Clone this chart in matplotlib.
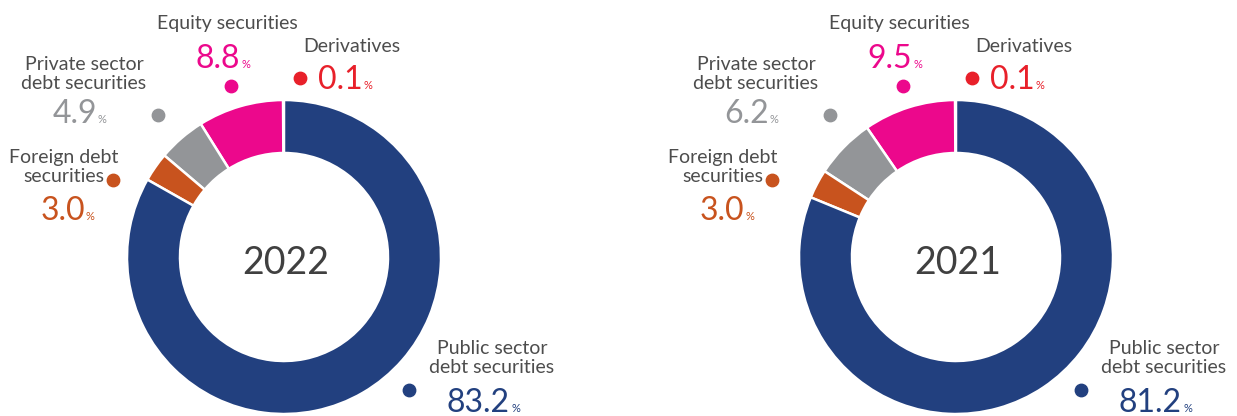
import matplotlib.pyplot as plt

# données (ordre : sens anti-horaire depuis midi)
categories = ["Derivatives", "Equity securities", "Private sector\ndebt securities",
              "Foreign debt\nsecurities", "Public sector\ndebt securities"]
colors = ["#E8202A", "#EC088C", "#939598", "#C8531E", "#22407F"]
years = ["2022", "2021"]
shares_2022 = [0.1, 8.8, 4.9, 3.0, 83.2]
shares_2021 = [0.1, 9.5, 6.2, 3.0, 81.2]

plt.rcParams['font.family'] = ['Lato', 'DejaVu Sans']
W, H = 1237, 416
fig = plt.figure(figsize=(W / 100, H / 100), dpi=100)
ax = fig.add_axes([0, 0, 1, 1])

R, r_in = 157, 104
centers = [(284, 257), (956, 257)]

# position des étiquettes par rapport au centre (px, y vers le bas)
label_pos = [(68, -211), (-57, -234), (-200, -183), (-220, -90), (208, 101)]
num_pos = [(79, -168), (-44, -189), (-187, -134), (-199, -37), (226, 155)]
dot_pos = [(16, -179), (-53, -171), (-126, -142), (-171, -77), (125, 133)]
foreign_shift = [0, -13]

for k, (year, vals) in enumerate(zip(years, [shares_2022, shares_2021])):
    cx, cy = centers[k]
    ax.pie(vals, colors=colors, startangle=90, counterclock=True, radius=R,
           center=(cx, H - cy),
           wedgeprops=dict(width=R - r_in, edgecolor='white', linewidth=1.8))
    ax.text(cx + 2, H - cy - 6, year, ha='center', va='center', fontsize=27, color='#404040')
    for i, name in enumerate(categories):
        sh = foreign_shift[k] if i == 3 else 0
        lx, ly = label_pos[i]
        ax.text(cx + lx + sh, H - (cy + ly), name, ha='center', va='center',
                fontsize=14, color='#4D4D4D', linespacing=1.1)
        nx, ny = num_pos[i]
        ax.text(cx + nx + sh, H - (cy + ny), f"{vals[i]:.1f}", ha='right', va='baseline',
                fontsize=23, color=colors[i])
        ax.text(cx + nx + sh + 1, H - (cy + ny), "%", ha='left', va='baseline',
                fontsize=8, color=colors[i])
        dx, dy = dot_pos[i]
        ax.scatter(cx + dx + sh, H - (cy + dy), s=80, color=colors[i], zorder=5)

ax.set_xlim(0, W)
ax.set_ylim(0, H)
ax.set_aspect('equal')
ax.axis('off')

fig.savefig('out.png', dpi=100)
